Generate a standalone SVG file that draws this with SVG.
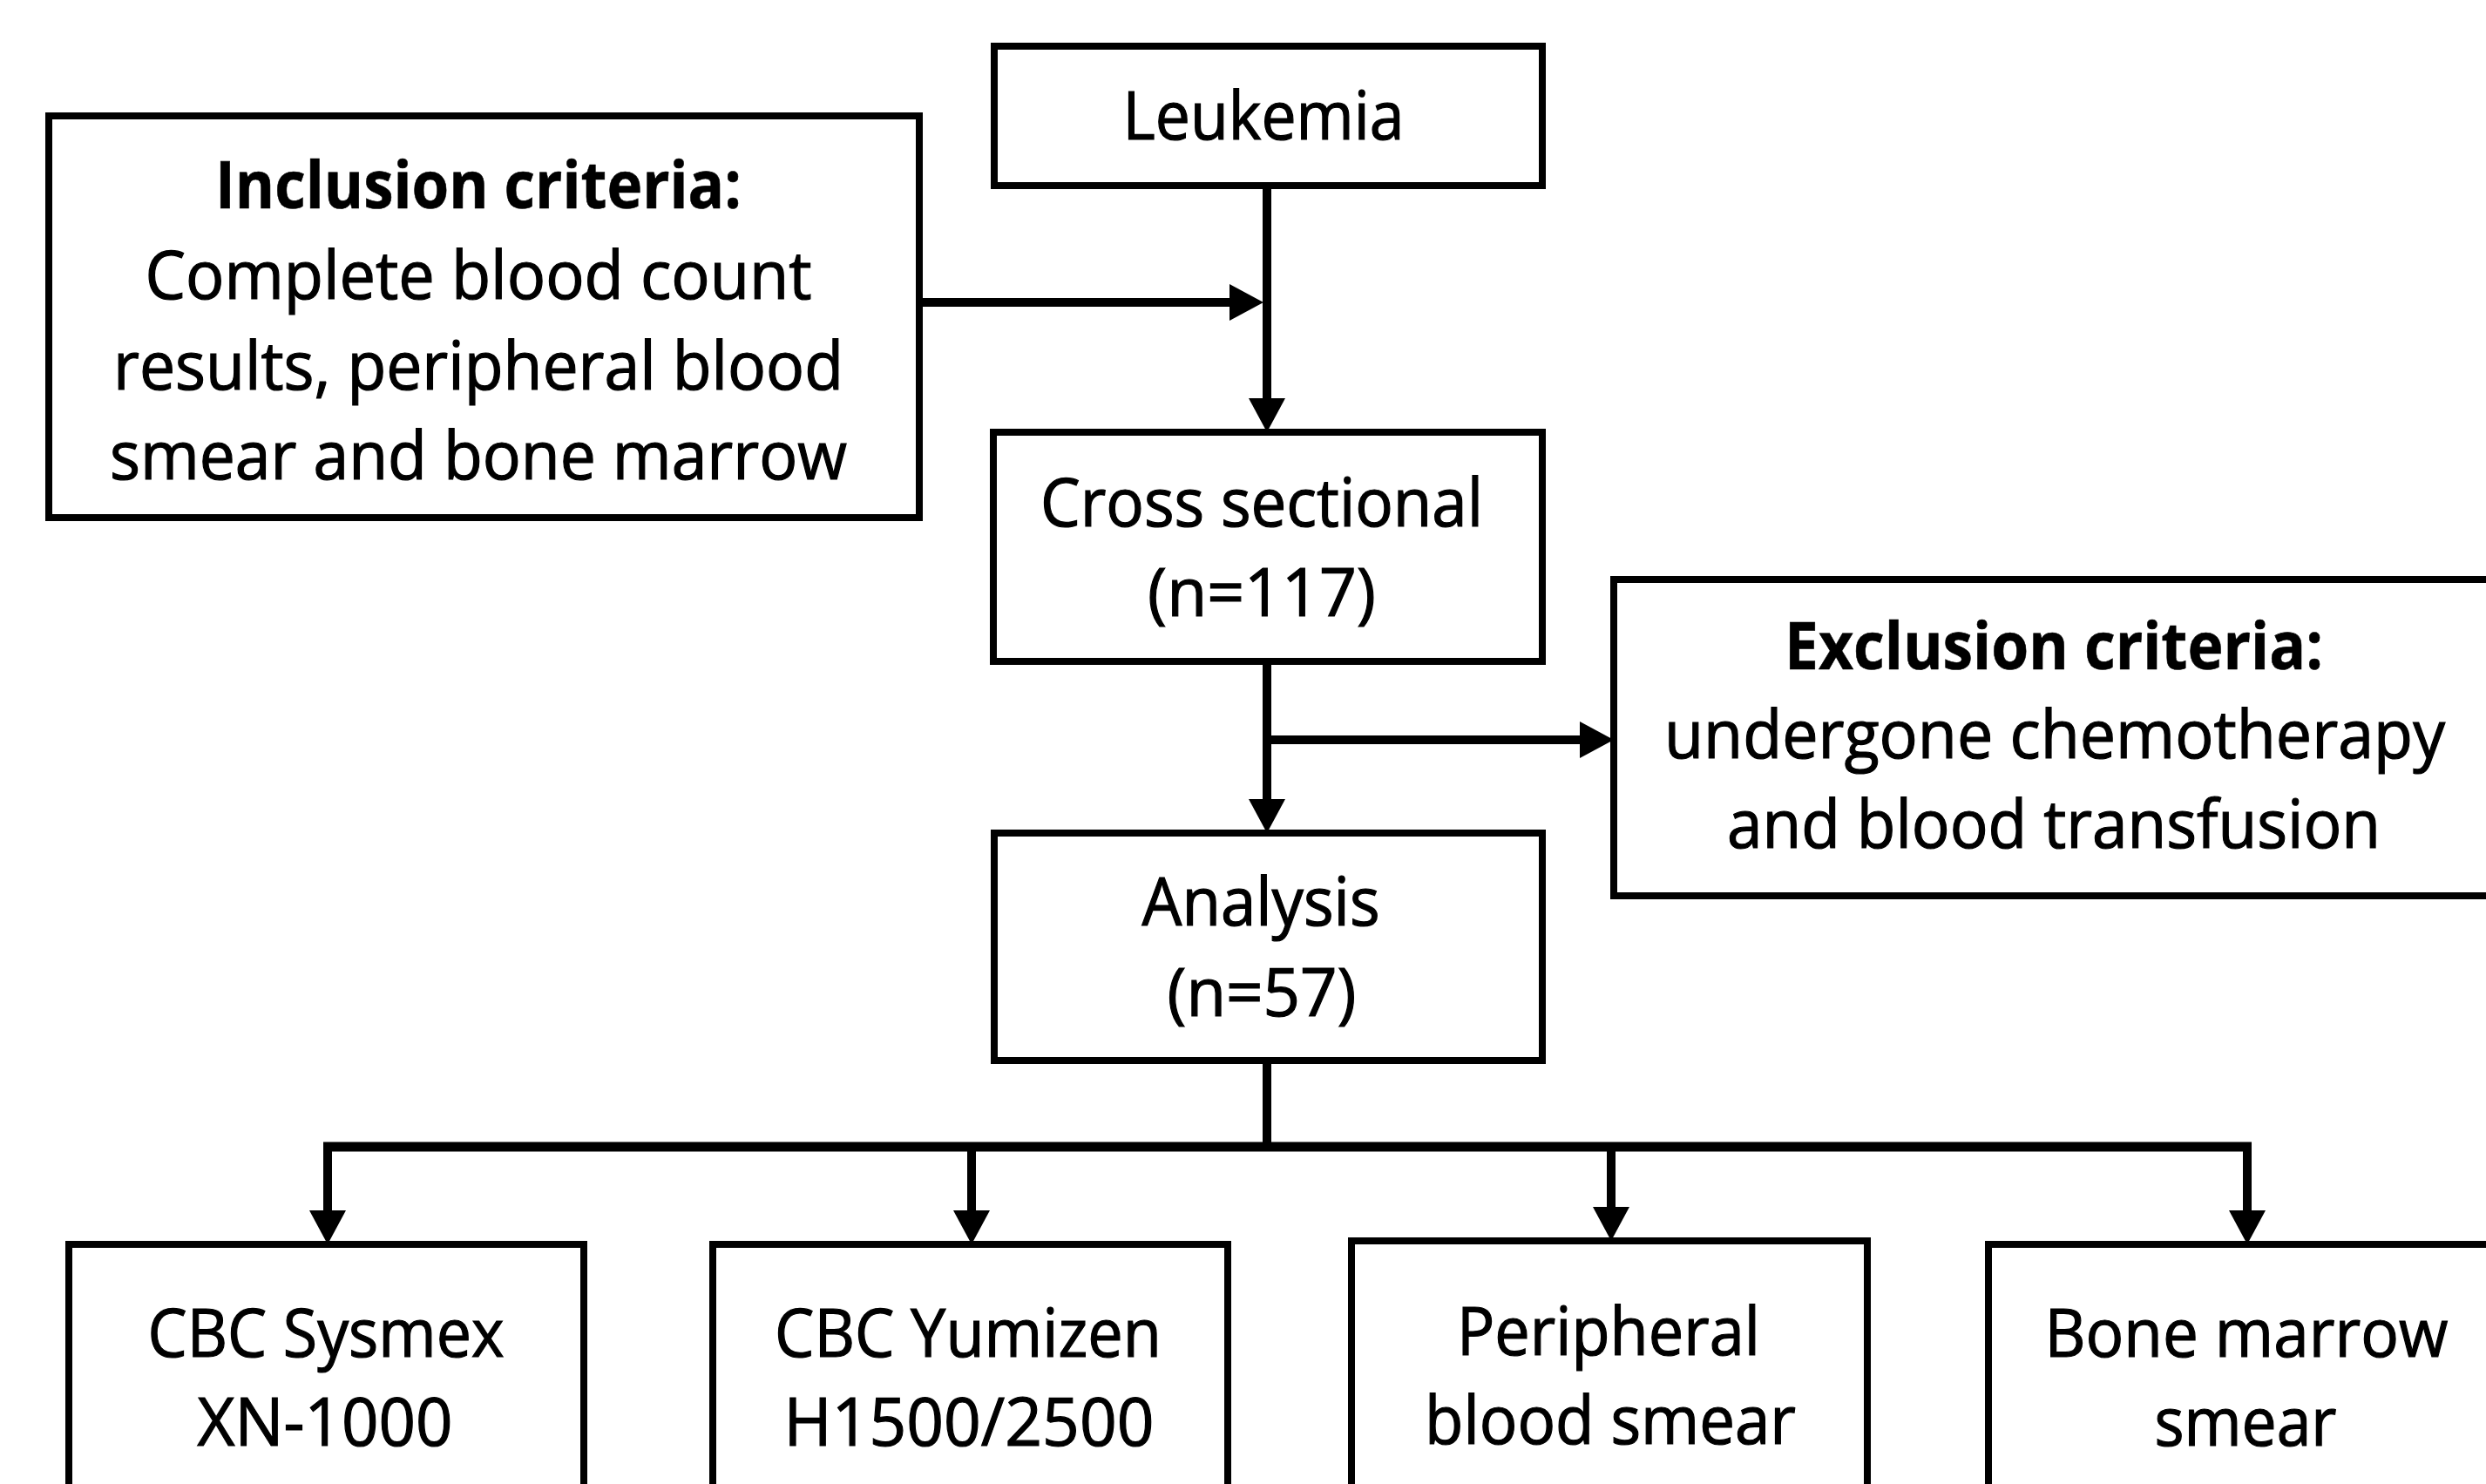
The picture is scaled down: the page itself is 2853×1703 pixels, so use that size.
<svg xmlns="http://www.w3.org/2000/svg" width="2853" height="1703" viewBox="0 0 2853 1703">
<defs>
<style>
.box{fill:#fff;stroke:#000;stroke-width:8}
.t{font-family:"Open Sans","Noto Sans","Liberation Sans",sans-serif;font-size:76px;fill:#000;stroke:#000;stroke-width:1.2;text-anchor:middle}
.b{font-weight:bold;stroke-width:0.6}
.c{fill:none;stroke:#000;stroke-width:10}
.bar{fill:none;stroke:#000;stroke-width:11}
</style>
<marker id="ah" markerUnits="userSpaceOnUse" markerWidth="39" markerHeight="42" viewBox="0 0 39 42" refX="0" refY="21" orient="auto">
<path d="M0,0 L39,21 L0,42 z" fill="#000"/>
</marker>
</defs>
<rect width="2853" height="1703" fill="#fff"/>
<g id="connectors">
<path class="c" d="M1454,213 V457" marker-end="url(#ah)"/>
<path class="c" d="M1055,347 H1411" marker-end="url(#ah)"/>
<path class="c" d="M1454,759 V917" marker-end="url(#ah)"/>
<path class="c" d="M1454,849 H1813" marker-end="url(#ah)"/>
<path class="c" d="M1454,1217 V1316"/>
<path class="bar" d="M371,1316 H2584"/>
<path class="c" d="M376,1316 V1389" marker-end="url(#ah)"/>
<path class="c" d="M1115,1316 V1389" marker-end="url(#ah)"/>
<path class="c" d="M1849,1316 V1385" marker-end="url(#ah)"/>
<path class="c" d="M2579,1316 V1389" marker-end="url(#ah)"/>
</g>
<g id="leukemia">
<rect class="box" x="1141" y="53" width="629" height="160"/>
<text class="t" x="1450" y="160" textLength="323" lengthAdjust="spacingAndGlyphs">Leukemia</text>
</g>
<g id="inclusion">
<rect class="box" x="56" y="133" width="999" height="461"/>
<text class="t b" x="549" y="239" textLength="604" lengthAdjust="spacingAndGlyphs">Inclusion criteria:</text>
<text class="t" x="549" y="343" textLength="765" lengthAdjust="spacingAndGlyphs">Complete blood count</text>
<text class="t" x="549" y="447" textLength="838" lengthAdjust="spacingAndGlyphs">results, peripheral blood</text>
<text class="t" x="549" y="550" textLength="846" lengthAdjust="spacingAndGlyphs">smear and bone marrow</text>
</g>
<g id="cross-sectional">
<rect class="box" x="1140" y="496" width="630" height="263"/>
<text class="t" x="1448" y="604" textLength="508" lengthAdjust="spacingAndGlyphs">Cross sectional</text>
<text class="t" x="1448" y="707" textLength="262" lengthAdjust="spacingAndGlyphs">(n=117)</text>
</g>
<g id="exclusion">
<rect class="box" x="1852" y="665" width="1100" height="363"/>
<text class="t b" x="2357" y="768" textLength="618" lengthAdjust="spacingAndGlyphs">Exclusion criteria:</text>
<text class="t" x="2358" y="870" textLength="896" lengthAdjust="spacingAndGlyphs">undergone chemotherapy</text>
<text class="t" x="2357" y="973" textLength="750" lengthAdjust="spacingAndGlyphs">and blood transfusion</text>
</g>
<g id="analysis">
<rect class="box" x="1141" y="956" width="629" height="261"/>
<text class="t" x="1447" y="1062" textLength="273" lengthAdjust="spacingAndGlyphs">Analysis</text>
<text class="t" x="1448" y="1166" textLength="217" lengthAdjust="spacingAndGlyphs">(n=57)</text>
</g>
<g id="cbc-sysmex">
<rect class="box" x="79" y="1428" width="591" height="400"/>
<text class="t" x="374" y="1557" textLength="409" lengthAdjust="spacingAndGlyphs">CBC Sysmex</text>
<text class="t" x="373" y="1659" textLength="293" lengthAdjust="spacingAndGlyphs">XN-1000</text>
</g>
<g id="cbc-yumizen">
<rect class="box" x="818" y="1428" width="591" height="400"/>
<text class="t" x="1111" y="1557" textLength="444" lengthAdjust="spacingAndGlyphs">CBC Yumizen</text>
<text class="t" x="1112" y="1659" textLength="425" lengthAdjust="spacingAndGlyphs">H1500/2500</text>
</g>
<g id="peripheral-blood-smear">
<rect class="box" x="1551" y="1424" width="592" height="400"/>
<text class="t" x="1846" y="1555" textLength="348" lengthAdjust="spacingAndGlyphs">Peripheral</text>
<text class="t" x="1848" y="1657" textLength="426" lengthAdjust="spacingAndGlyphs">blood smear</text>
</g>
<g id="bone-marrow-smear">
<rect class="box" x="2282" y="1428" width="600" height="400"/>
<text class="t" x="2578" y="1557" textLength="463" lengthAdjust="spacingAndGlyphs">Bone marrow</text>
<text class="t" x="2577" y="1659" textLength="209" lengthAdjust="spacingAndGlyphs">smear</text>
</g>
</svg>
